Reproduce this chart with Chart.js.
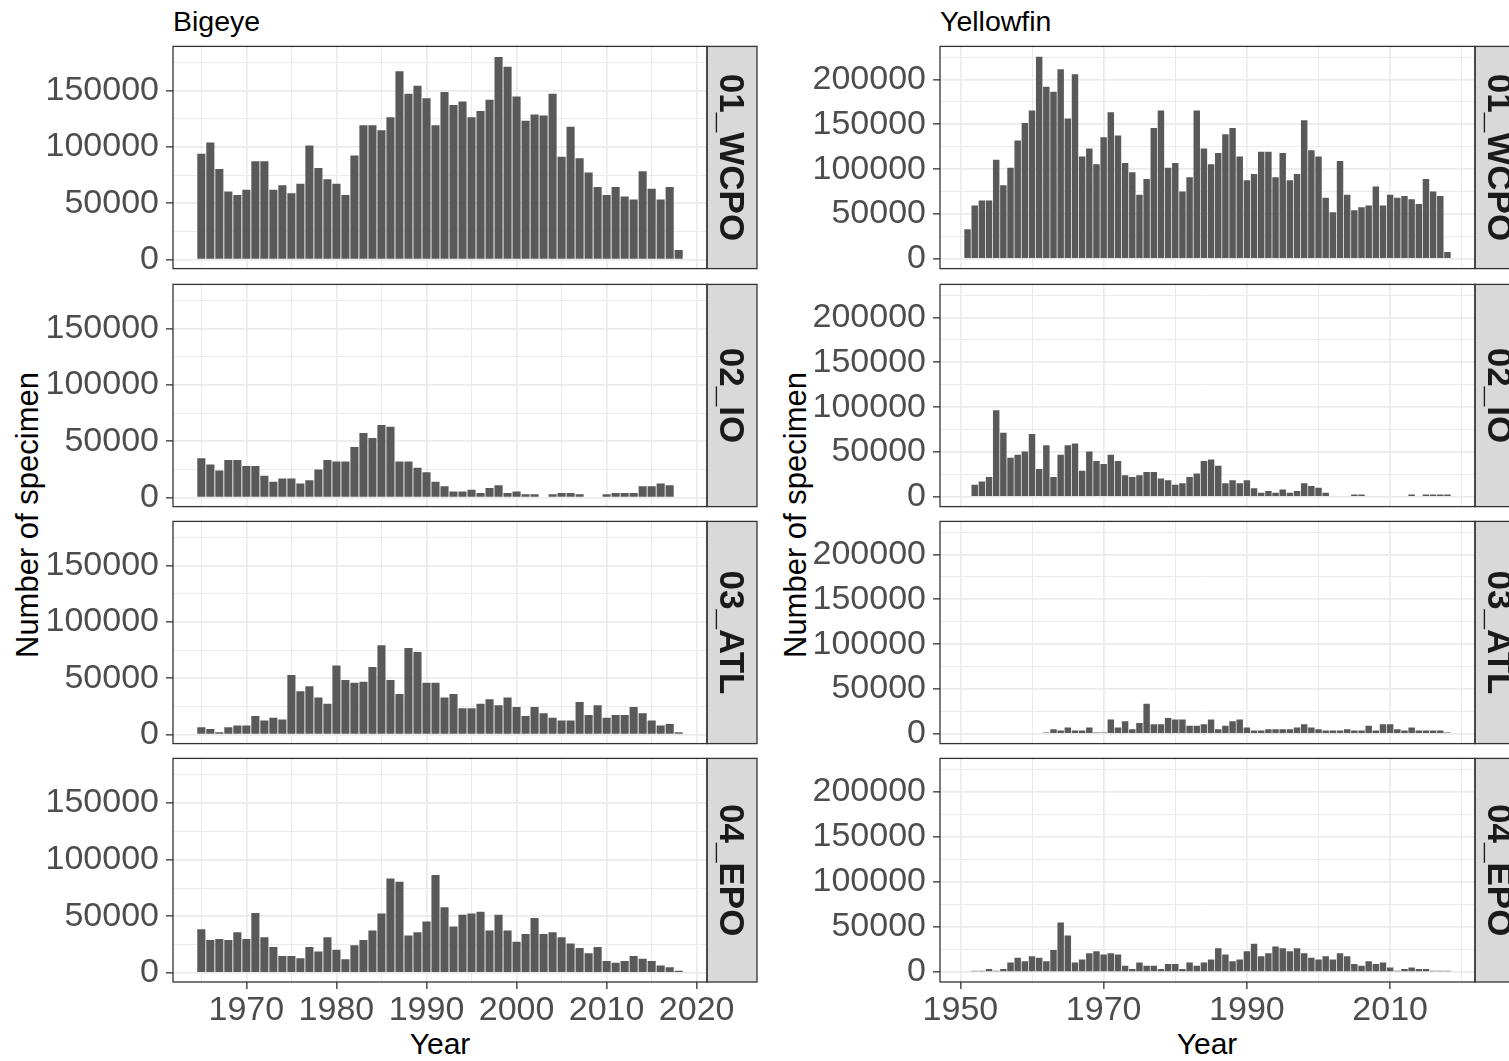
<!DOCTYPE html>
<html>
<head>
<meta charset="utf-8">
<title>Number of specimen by year</title>
<script src="https://cdn.jsdelivr.net/npm/chart.js@4.4.1/dist/chart.umd.min.js"></script>
<style>
  html, body { margin: 0; padding: 0; background: #fff; overflow: hidden; }
  #page { position: relative; width: 1509px; height: 1061px; overflow: hidden;
          font-family: 'Liberation Sans', Arial, sans-serif; }
  .lbl { position: absolute; color: #000; white-space: nowrap; line-height: 1; }
  canvas { position: absolute; }
</style>
</head>
<body>
<div id="page">
  <div class="lbl" style="left:173px;top:7px;font-size:28.5px">Bigeye</div>
  <div class="lbl" style="left:940px;top:7px;font-size:28.5px">Yellowfin</div>
  <div class="lbl" style="left:440px;top:1029px;font-size:30px;transform:translateX(-50%)">Year</div>
  <div class="lbl" style="left:1207px;top:1029px;font-size:30px;transform:translateX(-50%)">Year</div>
  <div class="lbl" style="left:27px;top:515px;font-size:31px;transform:translate(-50%,-50%) rotate(-90deg)">Number of specimen</div>
  <div class="lbl" style="left:795px;top:515px;font-size:31px;transform:translate(-50%,-50%) rotate(-90deg)">Number of specimen</div>
</div>
<script>
// facet rows
const regions = ['01_WCPO', '02_IO', '03_ATL', '04_EPO'];

// Bigeye, 1965-2018
const bigeyeYears = [1965, 1966, 1967, 1968, 1969, 1970, 1971, 1972, 1973, 1974,
  1975, 1976, 1977, 1978, 1979, 1980, 1981, 1982, 1983, 1984,
  1985, 1986, 1987, 1988, 1989, 1990, 1991, 1992, 1993, 1994,
  1995, 1996, 1997, 1998, 1999, 2000, 2001, 2002, 2003, 2004,
  2005, 2006, 2007, 2008, 2009, 2010, 2011, 2012, 2013, 2014,
  2015, 2016, 2017, 2018];
const bigeyeWCPO = [94000, 104000, 80500, 60500, 57500, 62000, 87500, 87500, 62000, 66000,
  59000, 67500, 101500, 81500, 71500, 67500, 57500, 92500, 119500, 119500,
  115000, 126500, 167500, 147500, 154500, 143500, 119500, 149000, 137500, 140500,
  126500, 132000, 142000, 180000, 171500, 145000, 123500, 129000, 128000, 147500,
  91500, 118000, 90000, 77500, 64500, 57500, 64500, 56000, 53500, 78500,
  63000, 53500, 64500, 8500];
const bigeyeIO = [35000, 29500, 24000, 33500, 33500, 28000, 28000, 19500, 14000, 17000,
  17000, 12500, 15500, 25000, 33500, 32000, 32000, 45000, 57500, 53000,
  64500, 63000, 32000, 32000, 26500, 22500, 14000, 10000, 5500, 5500,
  7000, 4000, 8500, 11000, 4000, 5500, 3000, 3000, null, 3000,
  4000, 4000, 3000, null, null, 3000, 4000, 4000, 4000, 10000,
  10000, 12500, 11000, null];
const bigeyeATL = [6500, 5000, 2000, 6500, 8000, 8000, 16500, 12500, 15000, 13500,
  53000, 38500, 43000, 33000, 27500, 61500, 48500, 46000, 47000, 60000,
  79500, 48500, 36000, 77000, 73500, 46000, 46000, 33000, 36000, 23500,
  23500, 27500, 31500, 26000, 33000, 24500, 16500, 24500, 19000, 15000,
  12500, 12500, 29000, 17500, 26000, 15000, 17500, 17500, 24500, 19000,
  12500, 8000, 9500, 2000];
const bigeyeEPO = [38500, 29000, 30000, 29000, 36000, 30000, 53000, 31500, 23000, 15000,
  15000, 13000, 23000, 19000, 31500, 20500, 12000, 24500, 29000, 37500,
  52500, 83500, 80500, 33000, 36000, 45500, 86500, 58000, 41000, 51500,
  52500, 54000, 37500, 51500, 37500, 27500, 34500, 48500, 34500, 36000,
  31500, 26000, 22000, 17500, 23000, 10500, 9000, 10500, 15000, 12500,
  10500, 6500, 5000, 2000];

// Yellowfin, 1951-2018
const yellowfinYears = [1951, 1952, 1953, 1954, 1955, 1956, 1957, 1958, 1959, 1960,
  1961, 1962, 1963, 1964, 1965, 1966, 1967, 1968, 1969, 1970,
  1971, 1972, 1973, 1974, 1975, 1976, 1977, 1978, 1979, 1980,
  1981, 1982, 1983, 1984, 1985, 1986, 1987, 1988, 1989, 1990,
  1991, 1992, 1993, 1994, 1995, 1996, 1997, 1998, 1999, 2000,
  2001, 2002, 2003, 2004, 2005, 2006, 2007, 2008, 2009, 2010,
  2011, 2012, 2013, 2014, 2015, 2016, 2017, 2018];
const yellowfinWCPO = [33000, 59500, 65000, 65000, 110500, 82000, 101500, 132000, 151500, 165500,
  225500, 192000, 186500, 211500, 156500, 206000, 114000, 123000, 105500, 135500,
  163500, 137500, 107000, 96500, 71500, 89000, 146000, 165500, 101500, 107000,
  75000, 91000, 165500, 123000, 105500, 118000, 139000, 146000, 114000, 87500,
  94500, 119500, 119500, 91000, 118000, 87500, 94500, 154500, 121000, 114000,
  68000, 52000, 109000, 71500, 54000, 57500, 59500, 80500, 59500, 71500,
  68000, 70000, 66500, 61000, 89000, 75000, 70000, 7500];
const yellowfinIO = [null, 13500, 17000, 22000, 96500, 71500, 43500, 47000, 50500, 70000,
  31000, 57500, 22000, 47000, 57500, 59500, 29000, 50500, 40000, 36500,
  47000, 40000, 24000, 22000, 24000, 27500, 27500, 20500, 18500, 13500,
  15000, 22000, 26000, 40000, 41500, 34500, 15000, 18500, 15000, 18500,
  9500, 4500, 6500, 4500, 8000, 4500, 6500, 15000, 12000, 10000,
  4500, null, null, null, 2500, 2500, null, null, null, null,
  null, null, 2500, null, 2500, 2500, 2500, 2500];
const yellowfinATL = [null, null, null, null, null, null, null, null, null, null,
  null, 1500, 5000, 3500, 7000, 3500, 3500, 7000, 1500, 1500,
  16000, 7000, 14000, 5000, 12000, 33500, 10500, 10500, 17500, 16000,
  16000, 9000, 9000, 10500, 16000, 5000, 9000, 14000, 16000, 7000,
  3500, 3500, 5000, 5000, 5000, 5000, 7000, 10500, 7000, 5000,
  3500, 3500, 3500, 5000, 3500, 3500, 9000, 3500, 10500, 10500,
  5000, 3500, 7000, 3500, 3500, 3500, 3500, 1500];
const yellowfinEPO = [null, 1500, 1500, 3500, 1500, 3500, 10500, 16000, 12000, 17500,
  16000, 12000, 24500, 55000, 40500, 10500, 14000, 21000, 23000, 19500,
  21000, 19500, 7000, 3500, 10500, 7000, 7000, 3500, 9000, 9000,
  3500, 10500, 7000, 10500, 14000, 26500, 19500, 12000, 14000, 23000,
  31500, 17500, 21000, 28500, 26500, 23000, 26500, 21000, 16000, 14000,
  17500, 14000, 21000, 17500, 9000, 7000, 12000, 9000, 10500, 5000,
  1500, 3500, 5000, 3500, 3500, 1500, 1500, 1500];

// axis breaks and limits
const bigeyeXBreaks = [1970, 1980, 1990, 2000, 2010, 2020];
const bigeyeXMinor = [1965, 1975, 1985, 1995, 2005, 2015];
const yellowfinXBreaks = [1950, 1970, 1990, 2010];
const yellowfinXMinor = [1960, 1980, 2000, 2020];
const bigeyeYBreaks = [0, 50000, 100000, 150000];
const bigeyeYMinor = [25000, 75000, 125000, 175000];
const yellowfinYBreaks = [0, 50000, 100000, 150000, 200000];
const yellowfinYMinor = [25000, 75000, 125000, 175000, 225000];
const bigeyeYLimits = [-8000, 189500];
const yellowfinYLimits = [-11000, 237000];

const FONT = "'Liberation Sans', Arial, sans-serif";
const PANEL_TOPS = [45, 283, 520, 757];
const PANEL_H = 225;
const PAD = 26;
const STRIP_W = 50;

// ggplot-style 5% expansion
function expand(lo, hi) {
    const d = (hi - lo) * 0.05;
    return [lo - d, hi + d];
}

const columns = [
    {
        canvasLeft: 0, yAxisW: 173, panelW: 534,
        years: bigeyeYears,
        series: [bigeyeWCPO, bigeyeIO, bigeyeATL, bigeyeEPO],
        xBreaks: bigeyeXBreaks, xMinor: bigeyeXMinor,
        yBreaks: bigeyeYBreaks, yMinor: bigeyeYMinor,
        yLimits: bigeyeYLimits
    },
    {
        canvasLeft: 770, yAxisW: 170, panelW: 535,
        years: yellowfinYears,
        series: [yellowfinWCPO, yellowfinIO, yellowfinATL, yellowfinEPO],
        xBreaks: yellowfinXBreaks, xMinor: yellowfinXMinor,
        yBreaks: yellowfinYBreaks, yMinor: yellowfinYMinor,
        yLimits: yellowfinYLimits
    }
];

// panel border + grey strip on the right
function framePlugin(label) {
    return {
        id: 'frame',
        afterDraw(chart) {
            const ctx = chart.ctx;
            const a = chart.chartArea;
            const h = a.bottom - a.top;
            ctx.save();
            ctx.fillStyle = '#D9D9D9';
            ctx.fillRect(a.right, a.top, STRIP_W, h);
            ctx.strokeStyle = '#333333';
            ctx.lineWidth = 1.3;
            ctx.strokeRect(a.right, a.top, STRIP_W, h);
            ctx.strokeRect(a.left, a.top, a.right - a.left, h);
            ctx.translate(a.right + STRIP_W / 2 - 2, (a.top + a.bottom) / 2);
            ctx.rotate(Math.PI / 2);
            ctx.fillStyle = '#1A1A1A';
            ctx.font = 'bold 35px ' + FONT;
            ctx.textAlign = 'center';
            ctx.textBaseline = 'middle';
            ctx.fillText(label, 0, 0);
            ctx.restore();
        }
    };
}

function buildPanel(col, row) {
    const page = document.getElementById('page');
    const isBottom = row === 3;
    const xAxisH = isBottom ? 50 : 0;
    const padBottom = isBottom ? 10 : PAD;
    const w = col.yAxisW + col.panelW + STRIP_W + 6;
    const h = PAD + PANEL_H + xAxisH + padBottom;

    const canvas = document.createElement('canvas');
    canvas.width = w;
    canvas.height = h;
    canvas.style.left = col.canvasLeft + 'px';
    canvas.style.top = (PANEL_TOPS[row] - PAD) + 'px';
    canvas.style.width = w + 'px';
    canvas.style.height = h + 'px';
    page.appendChild(canvas);

    const vals = col.series[row];
    const points = [];
    col.years.forEach((yr, i) => {
        if (vals[i] !== null) points.push({ x: yr, y: vals[i] });
    });

    const xRange = expand(col.years[0] - 0.45, col.years[col.years.length - 1] + 0.45);

    const xTicks = col.xBreaks.concat(col.xMinor).sort((a, b) => a - b);
    const yTicks = col.yBreaks.concat(col.yMinor).sort((a, b) => a - b);
    const isXMajor = v => col.xBreaks.includes(v);
    const isYMajor = v => col.yBreaks.includes(v);

    new Chart(canvas, {
        type: 'bar',
        data: {
            datasets: [{
                data: points,
                backgroundColor: '#595959',
                borderWidth: 0,
                barPercentage: 0.9,
                categoryPercentage: 1.0
            }]
        },
        options: {
            responsive: false,
            animation: false,
            events: [],
            layout: { padding: { left: 0, right: STRIP_W + 6, top: PAD, bottom: padBottom } },
            plugins: { legend: { display: false }, tooltip: { enabled: false } },
            scales: {
                x: {
                    type: 'linear',
                    min: xRange[0],
                    max: xRange[1],
                    offset: false,
                    afterBuildTicks: s => { s.ticks = xTicks.map(v => ({ value: v })); },
                    afterFit: s => { s.height = xAxisH; },
                    ticks: {
                        display: isBottom,
                        autoSkip: false,
                        maxRotation: 0,
                        minRotation: 0,
                        padding: 1,
                        color: '#4D4D4D',
                        font: { family: FONT, size: 34 },
                        callback: v => isXMajor(v) ? String(v) : ''
                    },
                    grid: {
                        offset: false,
                        color: '#EBEBEB',
                        lineWidth: c => (c.tick && isXMajor(c.tick.value)) ? 1.7 : 1.0,
                        drawTicks: isBottom,
                        tickLength: 7,
                        tickWidth: 1.3,
                        tickColor: c => (c.tick && isXMajor(c.tick.value)) ? '#333333' : 'rgba(0,0,0,0)'
                    },
                    border: { display: false }
                },
                y: {
                    type: 'linear',
                    min: col.yLimits[0],
                    max: col.yLimits[1],
                    afterBuildTicks: s => { s.ticks = yTicks.map(v => ({ value: v })); },
                    afterFit: s => { s.width = col.yAxisW; },
                    ticks: {
                        autoSkip: false,
                        padding: 7,
                        color: '#4D4D4D',
                        font: { family: FONT, size: 34 },
                        callback: v => isYMajor(v) ? String(v) : ''
                    },
                    grid: {
                        offset: false,
                        color: '#EBEBEB',
                        lineWidth: c => (c.tick && isYMajor(c.tick.value)) ? 1.7 : 1.0,
                        drawTicks: true,
                        tickLength: 7,
                        tickWidth: 1.3,
                        tickColor: c => (c.tick && isYMajor(c.tick.value)) ? '#333333' : 'rgba(0,0,0,0)'
                    },
                    border: { display: false }
                }
            }
        },
        plugins: [framePlugin(regions[row])]
    });
}

columns.forEach(col => {
    for (let r = 0; r < regions.length; r++) buildPanel(col, r);
});
</script>
</body>
</html>
